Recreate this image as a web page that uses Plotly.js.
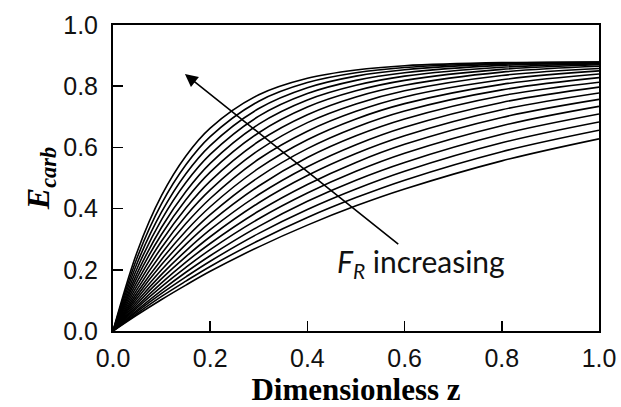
<!DOCTYPE html>
<html>
<head>
<meta charset="utf-8">
<script src="https://cdn.plot.ly/plotly-3.0.1.min.js"></script>
<style>html,body{margin:0;padding:0;background:#fff;}#chart{width:621px;height:407px;}</style>
</head>
<body>
<div id="chart"></div>
<script>
// Dimensionless z positions where the curves were read
const zValues = [0, 0.05, 0.1, 0.15, 0.2, 0.3, 0.4, 0.5, 0.6, 0.8, 1.0];

// E_carb curves, lowest F_R first
const curve01 = [0, 0.053, 0.103, 0.150, 0.195, 0.275, 0.346, 0.409, 0.464, 0.556, 0.628];
const curve02 = [0, 0.058, 0.113, 0.163, 0.211, 0.296, 0.371, 0.436, 0.493, 0.586, 0.656];
const curve03 = [0, 0.064, 0.123, 0.177, 0.228, 0.319, 0.397, 0.464, 0.522, 0.615, 0.683];
const curve04 = [0, 0.069, 0.133, 0.192, 0.246, 0.342, 0.424, 0.493, 0.551, 0.643, 0.709];
const curve05 = [0, 0.076, 0.145, 0.208, 0.266, 0.367, 0.451, 0.522, 0.581, 0.671, 0.734];
const curve06 = [0, 0.082, 0.157, 0.225, 0.286, 0.392, 0.479, 0.551, 0.610, 0.698, 0.757];
const curve07 = [0, 0.090, 0.171, 0.243, 0.308, 0.419, 0.508, 0.580, 0.638, 0.723, 0.778];
const curve08 = [0, 0.098, 0.185, 0.262, 0.331, 0.446, 0.537, 0.609, 0.666, 0.747, 0.797];
const curve09 = [0, 0.107, 0.200, 0.283, 0.355, 0.474, 0.567, 0.638, 0.693, 0.769, 0.813];
const curve10 = [0, 0.116, 0.217, 0.304, 0.380, 0.503, 0.596, 0.666, 0.719, 0.788, 0.828];
const curve11 = [0, 0.126, 0.234, 0.327, 0.406, 0.532, 0.625, 0.693, 0.743, 0.806, 0.840];
const curve12 = [0, 0.137, 0.253, 0.351, 0.433, 0.562, 0.653, 0.718, 0.765, 0.821, 0.850];
const curve13 = [0, 0.149, 0.273, 0.376, 0.461, 0.591, 0.681, 0.742, 0.785, 0.835, 0.858];
const curve14 = [0, 0.162, 0.294, 0.402, 0.490, 0.620, 0.707, 0.765, 0.803, 0.846, 0.865];
const curve15 = [0, 0.176, 0.316, 0.429, 0.519, 0.648, 0.732, 0.785, 0.819, 0.855, 0.870];
const curve16 = [0, 0.190, 0.339, 0.456, 0.548, 0.676, 0.755, 0.803, 0.833, 0.862, 0.873];
const curve17 = [0, 0.206, 0.364, 0.485, 0.577, 0.702, 0.776, 0.819, 0.844, 0.868, 0.876];
const curve18 = [0, 0.223, 0.389, 0.514, 0.606, 0.727, 0.795, 0.833, 0.854, 0.872, 0.877];
const curve19 = [0, 0.241, 0.416, 0.543, 0.635, 0.751, 0.812, 0.844, 0.861, 0.875, 0.879];
const curve20 = [0, 0.260, 0.443, 0.572, 0.663, 0.772, 0.826, 0.853, 0.867, 0.877, 0.879];

const curves = [curve01, curve02, curve03, curve04, curve05, curve06, curve07, curve08, curve09, curve10,
                curve11, curve12, curve13, curve14, curve15, curve16, curve17, curve18, curve19, curve20];

// Tick labels
const tickVals = [0, 0.2, 0.4, 0.6, 0.8, 1.0];
const tickText = ["0.0", "0.2", "0.4", "0.6", "0.8", "1.0"];

// Arrow annotation (tail -> head) and label
const arrowTail = [0.59, 0.28];
const arrowHead = [0.148, 0.84];
const labelPos = [0.634, 0.222];
const arrowLabel = "<i>F<sub>R</sub></i> increasing";

const traces = curves.map(c => ({
  x: zValues, y: c, type: 'scatter', mode: 'lines',
  line: {color: '#000', width: 1.6, shape: 'spline', smoothing: 1},
  hoverinfo: 'skip', showlegend: false
}));

const axisCommon = {
  range: [0, 1], tickvals: tickVals, ticktext: tickText,
  ticks: 'inside', ticklen: 10, tickwidth: 1.5, tickcolor: '#000',
  showline: true, linecolor: '#000', linewidth: 2, mirror: true,
  showgrid: false, zeroline: false,
  tickfont: {family: 'Liberation Sans, Arial, sans-serif', size: 25, color: '#111'}
};

const layout = {
  width: 621, height: 407,
  margin: {l: 113, r: 22, t: 25, b: 76},
  paper_bgcolor: '#fff', plot_bgcolor: '#fff',
  xaxis: Object.assign({}, axisCommon, {
    ticklabelstandoff: 4,
    title: {text: '<b>Dimensionless z</b>', font: {family: 'Liberation Serif, Times New Roman, serif', size: 31, color: '#000'}, standoff: 4}
  }),
  yaxis: Object.assign({}, axisCommon, {
    ticklabelstandoff: 8,
    title: {text: '<b><i>E<sub>carb</sub></i></b>', font: {family: 'Liberation Serif, Times New Roman, serif', size: 32, color: '#000'}, standoff: 4}
  }),
  annotations: [
    {
      x: arrowHead[0], y: arrowHead[1], ax: arrowTail[0], ay: arrowTail[1],
      xref: 'x', yref: 'y', axref: 'x', ayref: 'y',
      text: '', showarrow: true, arrowhead: 2, arrowsize: 1.6, arrowwidth: 1.6, arrowcolor: '#000'
    },
    {
      x: labelPos[0], y: labelPos[1], xref: 'x', yref: 'y', showarrow: false,
      text: arrowLabel,
      font: {family: 'Lato, Open Sans, sans-serif', size: 30, color: '#111'}
    }
  ]
};

Plotly.newPlot('chart', traces, layout, {displayModeBar: false, staticPlot: true});
</script>
</body>
</html>
